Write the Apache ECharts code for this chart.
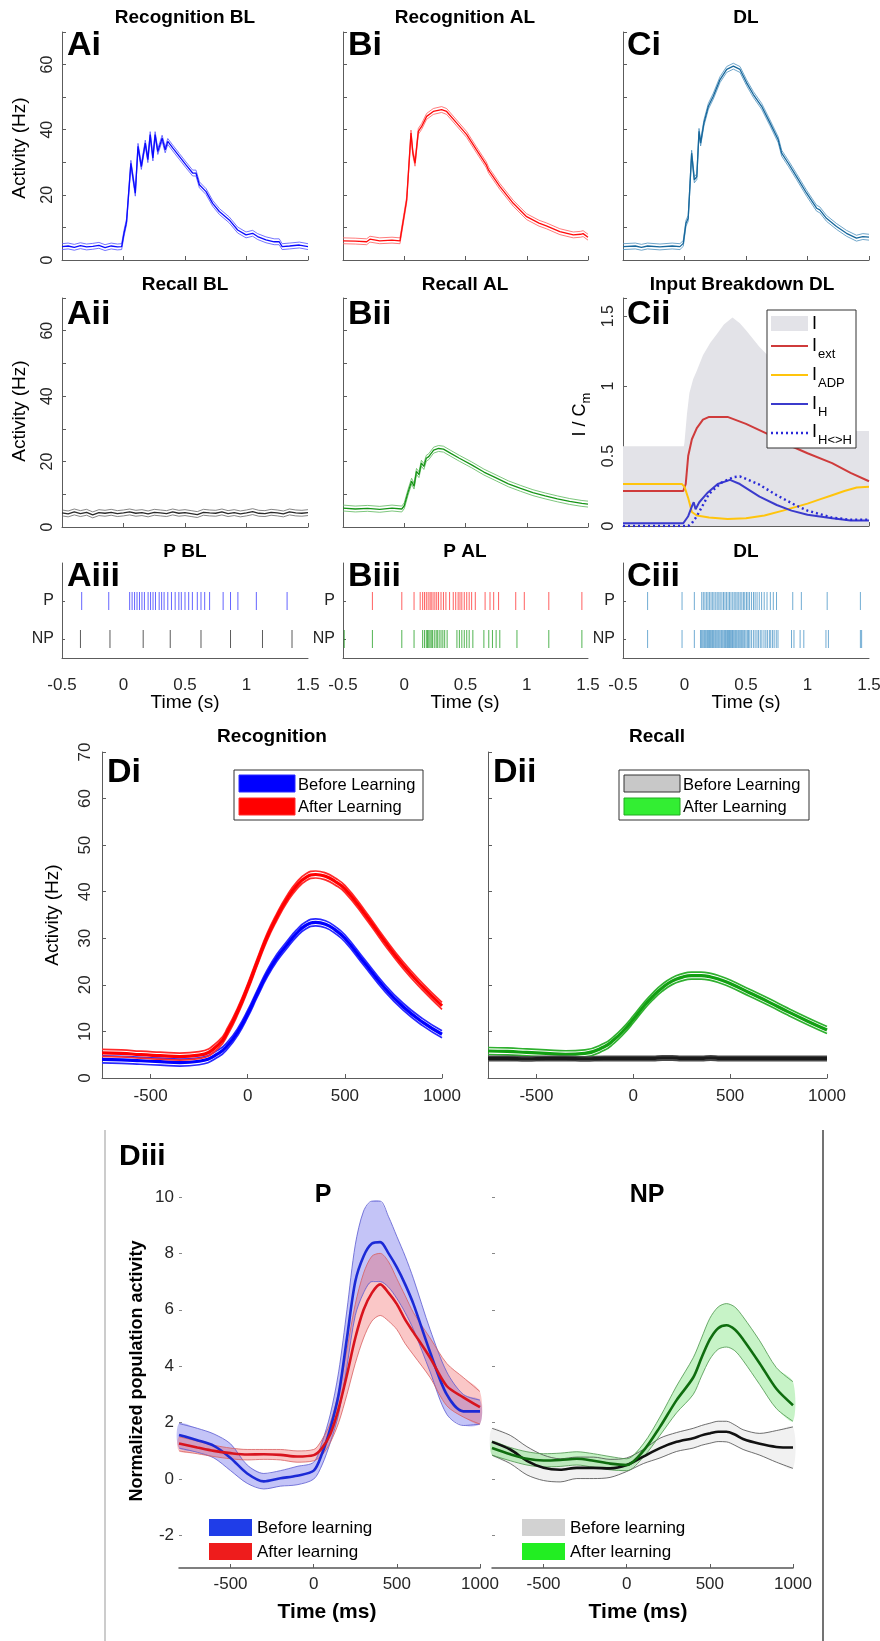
<!DOCTYPE html>
<html><head><meta charset="utf-8">
<script src="https://cdn.jsdelivr.net/npm/echarts@6/dist/echarts.min.js"></script>
<style>html,body{margin:0;padding:0;background:#fff}#c{width:880px;height:1641px}</style>
</head><body><div id="c"></div>
<script>
// ---------------- DATA ----------------
// Recognition BL (Ai)
const aiT = [-0.5,-0.45,-0.4,-0.35,-0.3,-0.25,-0.2,-0.15,-0.1,-0.05,-0.015,0.004,0.025,0.04,0.06,0.096,0.118,0.145,0.177,0.198,0.217,0.239,0.257,0.279,0.314,0.339,0.36,0.4,0.454,0.508,0.562,0.589,0.617,0.671,0.725,0.779,0.86,0.928,0.996,1.05,1.09,1.158,1.225,1.266,1.29,1.35,1.43,1.5];
const aiV = [4.1,4.3,3.9,4.4,4.0,4.2,4.5,3.8,4.3,4.0,4.1,8.2,11.8,12.3,29.7,20.5,34.9,28.7,35.9,30.8,38.5,31.3,38.5,33.3,37.4,33.8,36.4,34.4,31.8,29.2,26.7,26.7,23.1,21,17.4,14.9,12.3,9.2,7.7,8.2,7.2,6.2,5.6,5.6,4.1,4.3,4.6,4.1];
// Recognition AL (Bi)
const biT = [-0.5,-0.4,-0.307,-0.28,-0.2,-0.1,-0.035,-0.02,0.02,0.055,0.07,0.088,0.115,0.142,0.183,0.237,0.305,0.346,0.427,0.51,0.59,0.67,0.69,0.7,0.78,0.89,0.999,1.1,1.16,1.27,1.38,1.44,1.46,1.5];
const biV = [5.9,5.8,5.6,6.4,5.9,6.1,5.9,6.0,18.5,39,33,29.7,39.5,41,44.1,45.6,46.2,45.6,42.1,38.5,33.8,29.2,27.5,27.2,22.6,17.4,13.3,11.3,10.5,8.7,7.7,7.9,8.1,7.0];
// DL (Ci)
const ciT = [-0.5,-0.4,-0.35,-0.3,-0.2,-0.1,-0.037,-0.01,0.012,0.03,0.044,0.058,0.08,0.1,0.118,0.131,0.158,0.194,0.234,0.289,0.343,0.397,0.451,0.505,0.56,0.627,0.695,0.762,0.79,0.844,0.911,0.993,1.074,1.1,1.154,1.236,1.317,1.398,1.45,1.5];
const ciV = [4.1,4.3,3.9,4.3,4.0,4.3,4.1,5.1,11.3,12.8,22.6,32.8,24.6,25.6,39.5,35.9,42.1,47.2,50.3,55.4,58.5,59.5,58.5,54.4,50.8,47.2,42.1,36.9,32.8,29.7,25.6,20.5,15.9,15.4,12.8,10.3,8.2,6.7,7.2,7.0];
// Recall BL (Aii)
const aiiT = [-0.5,-0.45,-0.4,-0.35,-0.3,-0.25,-0.2,-0.15,-0.1,-0.05,0,0.05,0.1,0.15,0.2,0.25,0.3,0.35,0.4,0.45,0.5,0.55,0.6,0.65,0.7,0.75,0.8,0.85,0.9,0.95,1,1.05,1.1,1.15,1.2,1.25,1.3,1.35,1.4,1.45,1.5];
const aiiV = [4.3,4.0,4.6,4.1,4.5,3.7,4.4,4.2,4.5,4.1,4.3,4.6,4.2,4.4,4.0,4.5,4.3,4.1,4.6,4.2,4.4,4.1,3.8,4.5,4.3,4.2,4.6,4.1,4.4,4.0,4.3,4.7,4.2,4.1,4.5,4.3,4.0,4.6,4.3,4.2,4.4];
// Recall AL (Bii)
const biiT = [-0.5,-0.4,-0.3,-0.2,-0.1,-0.02,0.0,0.03,0.06,0.08,0.1,0.12,0.14,0.16,0.18,0.2,0.24,0.28,0.32,0.38,0.45,0.55,0.65,0.75,0.85,0.95,1.05,1.15,1.25,1.35,1.45,1.5];
const biiV = [5.8,5.5,5.7,5.4,5.8,5.5,6.5,10.5,14,12.5,17,16,19.5,18.5,21,21.5,23.5,24,23.8,22.5,21,19,16.8,15,13.2,11.8,10.5,9.5,8.6,7.8,7.2,7.0];
const semTop = 0.9; // band half-width (Hz)

// Input breakdown DL (Cii)
const ciiIT = [-0.5,-0.005,0.0,0.02,0.04,0.07,0.1,0.15,0.21,0.27,0.32,0.39,0.45,0.5,0.61,0.7,0.8,0.9,1.0,1.1,1.2,1.3,1.37,1.5];
const ciiI  = [0.57,0.57,0.6,0.8,0.95,1.05,1.11,1.22,1.31,1.38,1.44,1.49,1.45,1.4,1.28,1.2,1.1,0.98,0.88,0.8,0.73,0.69,0.68,0.68];
const ciiExtT = [-0.5,-0.01,0.01,0.03,0.06,0.1,0.15,0.2,0.35,0.5,0.67,0.87,1.0,1.2,1.35,1.5];
const ciiExt  = [0.25,0.25,0.3,0.5,0.62,0.7,0.76,0.78,0.78,0.73,0.66,0.57,0.52,0.45,0.38,0.32];
const ciiAdpT = [-0.5,-0.02,0.0,0.03,0.06,0.1,0.2,0.35,0.5,0.65,0.8,0.9,1.0,1.1,1.2,1.3,1.4,1.5];
const ciiAdp  = [0.3,0.3,0.28,0.2,0.1,0.075,0.06,0.05,0.055,0.075,0.11,0.135,0.16,0.19,0.22,0.25,0.275,0.28];
const ciiHT = [-0.5,-0.01,0.004,0.03,0.06,0.075,0.09,0.12,0.19,0.27,0.37,0.45,0.61,0.75,0.87,1.0,1.2,1.35,1.5];
const ciiH  = [0.02,0.02,0.02,0.07,0.14,0.17,0.12,0.17,0.24,0.3,0.33,0.3,0.21,0.15,0.11,0.08,0.055,0.04,0.04];
const ciiHHT = [-0.5,0.03,0.06,0.1,0.15,0.2,0.3,0.4,0.45,0.6,0.75,0.9,1.0,1.2,1.35,1.5];
const ciiHH  = [0.0,0.0,0.02,0.07,0.15,0.23,0.31,0.35,0.355,0.3,0.22,0.15,0.11,0.06,0.045,0.045];

// Rasters (spike times, s)
const aiiiP  = [-0.34,-0.12,0.05,0.07,0.09,0.11,0.13,0.15,0.17,0.2,0.22,0.24,0.26,0.29,0.31,0.33,0.36,0.39,0.42,0.45,0.47,0.5,0.53,0.56,0.6,0.63,0.66,0.7,0.81,0.87,0.93,1.08,1.33];
const aiiiNP = [-0.35,-0.11,0.16,0.38,0.63,0.87,1.13,1.37];
const biiiP  = [-0.26,-0.02,0.08,0.13,0.15,0.165,0.18,0.195,0.21,0.22,0.235,0.25,0.265,0.28,0.3,0.32,0.34,0.37,0.4,0.42,0.44,0.455,0.47,0.49,0.51,0.53,0.55,0.58,0.66,0.7,0.73,0.77,0.91,0.98,1.18,1.45];
const biiiNP = [-0.49,-0.26,-0.02,0.08,0.15,0.165,0.18,0.19,0.2,0.21,0.22,0.23,0.245,0.26,0.27,0.285,0.3,0.315,0.33,0.35,0.43,0.45,0.47,0.49,0.51,0.53,0.56,0.65,0.69,0.72,0.75,0.78,0.92,1.18,1.45];
const ciiiP  = [-0.3,-0.02,0.08,0.14,0.153,0.166,0.18,0.191,0.204,0.216,0.229,0.24,0.254,0.266,0.279,0.29,0.304,0.317,0.329,0.341,0.354,0.366,0.378,0.392,0.404,0.417,0.428,0.441,0.453,0.466,0.479,0.49,0.504,0.516,0.529,0.545,0.561,0.574,0.59,0.608,0.627,0.648,0.671,0.698,0.722,0.748,0.88,0.95,1.16,1.43];
const ciiiNP = [-0.3,-0.02,0.08,0.13,0.139,0.148,0.157,0.164,0.172,0.181,0.188,0.196,0.204,0.21,0.218,0.227,0.234,0.241,0.25,0.257,0.265,0.273,0.28,0.288,0.297,0.303,0.311,0.32,0.327,0.334,0.343,0.35,0.358,0.366,0.373,0.381,0.39,0.396,0.404,0.413,0.42,0.427,0.436,0.443,0.451,0.459,0.466,0.474,0.483,0.49,0.5,0.511,0.52,0.531,0.544,0.56,0.574,0.589,0.601,0.616,0.629,0.646,0.661,0.674,0.69,0.701,0.716,0.729,0.746,0.76,0.87,0.89,0.94,0.97,1.15,1.17,1.43,1.44];

// Di / Dii (ms, Hz)
const tD = [-750,-650,-550,-450,-350,-250,-150,-100,-50,0,50,100,150,200,250,300,350,400,450,500,600,700,800,900,1000];
const diBlue = [4.0,3.9,3.7,3.5,3.3,3.6,5.3,7.2,10,13.8,18.2,22.4,25.8,28.5,31,32.8,33.4,33.0,31.8,30.0,24.8,19.6,15.3,12.0,9.4];
const diRed  = [5.4,5.3,5.0,4.8,4.6,4.9,7.2,10.3,14.5,19.5,25,30.3,34.6,38.3,41.2,43.1,43.7,43.3,42.2,40.6,35.4,29.6,24.2,19.6,15.5];
const diiGreen = [5.8,5.7,5.5,5.3,5.1,5.3,6.7,8.2,10.2,12.6,15.2,17.5,19.4,20.8,21.6,22.0,22.0,21.7,21.1,20.3,18.3,16.3,14.2,12.2,10.3];
const diiGray  = [4.2,4.2,4.1,4.2,4.2,4.1,4.2,4.2,4.2,4.2,4.2,4.2,4.3,4.3,4.2,4.2,4.2,4.3,4.2,4.2,4.2,4.2,4.2,4.2,4.2];
const semD = 0.75, semGray = 0.45;

// Diii (ms, normalized)
const tP = [-810,-700,-600,-500,-400,-300,-200,-100,0,50,100,150,200,250,300,350,400,450,500,550,600,700,800,900,1000];
const pBlue   = [1.56,1.38,1.18,0.75,0.2,-0.08,0.03,0.12,0.3,0.9,1.8,3.0,5.0,7.0,7.9,8.35,8.4,8.0,7.5,6.9,6.2,4.5,3.0,2.4,2.4];
const pBlueHi = [1.97,1.8,1.6,1.25,0.5,0.2,0.3,0.45,0.6,1.3,2.3,3.8,6.0,8.3,9.5,9.85,9.85,9.3,8.6,7.9,7.1,5.3,3.8,3.0,2.8];
const pBlueLo = [1.1,0.95,0.75,0.3,-0.15,-0.35,-0.25,-0.2,0.0,0.5,1.3,2.3,4.0,5.8,6.6,7.0,7.0,6.8,6.4,5.9,5.3,3.8,2.3,1.9,1.95];
const pRed   = [1.26,1.12,1.0,0.92,0.87,0.88,0.86,0.8,0.85,1.1,1.6,2.5,3.7,5.0,6.0,6.6,6.9,6.6,6.2,5.65,5.2,4.3,3.3,2.9,2.55];
const pRedHi = [1.5,1.35,1.2,1.1,1.05,1.05,1.05,1.0,1.05,1.4,2.0,3.1,4.6,6.2,7.3,7.9,8.0,7.7,7.1,6.5,5.9,5.0,4.1,3.6,3.1];
const pRedLo = [1.0,0.9,0.8,0.72,0.68,0.7,0.68,0.6,0.65,0.85,1.3,2.0,3.0,4.1,5.0,5.6,5.8,5.6,5.3,4.8,4.4,3.6,2.6,2.2,1.95];
const tN = [-810,-700,-600,-500,-400,-300,-200,-100,0,100,200,300,400,450,500,550,600,650,700,800,900,1000];
const nGreen   = [1.1,0.88,0.72,0.66,0.68,0.72,0.65,0.55,0.5,1.0,1.85,2.8,3.6,4.3,4.95,5.35,5.45,5.3,4.95,4.1,3.2,2.62];
const nGreenHi = [1.35,1.12,0.97,0.9,0.92,0.97,0.9,0.8,0.72,1.25,2.2,3.3,4.3,5.0,5.7,6.1,6.22,6.1,5.75,4.9,3.95,3.45];
const nGreenLo = [0.85,0.65,0.5,0.43,0.45,0.5,0.42,0.33,0.3,0.78,1.55,2.35,3.0,3.65,4.25,4.6,4.68,4.55,4.2,3.35,2.5,2.05];
const nBlack   = [1.32,1.05,0.65,0.4,0.33,0.4,0.4,0.38,0.5,0.8,1.1,1.32,1.45,1.55,1.62,1.68,1.68,1.58,1.42,1.25,1.14,1.12];
const nBlackHi = [1.8,1.55,1.15,0.85,0.72,0.78,0.78,0.7,0.75,1.05,1.45,1.65,1.8,1.9,1.98,2.05,2.05,1.92,1.75,1.62,1.72,1.85];
const nBlackLo = [0.85,0.55,0.15,-0.05,-0.1,0.02,0.02,0.06,0.27,0.55,0.75,0.98,1.1,1.2,1.27,1.33,1.32,1.2,1.05,0.85,0.6,0.38];

// tick labels
const topYLabels = [0,20,40,60];
const ciiYLabels = [0,0.5,1,1.5];
const dXLabels = [-500,0,500,1000];
const diiiYLabels = [-2,0,2,4,6,8,10];

// ---------------- BUILD ----------------
const FONT = "'Liberation Sans', Arial, Helvetica, sans-serif";
const AX = '#5c5c5c', TXT = '#262626';
const grids = [], xAxes = [], yAxes = [], series = [], graphic = [];

function merge(a, b) {
  const o = Object.assign({}, a);
  for (const k in b) {
    if (b[k] && typeof b[k] === 'object' && !Array.isArray(b[k]) && a[k] && typeof a[k] === 'object' && !Array.isArray(a[k])) o[k] = merge(a[k], b[k]);
    else o[k] = b[k];
  }
  return o;
}
const baseAxis = {
  type: 'value', splitLine: {show: false}, splitArea: {show: false},
  axisLine: {show: true, onZero: false, lineStyle: {color: AX, width: 1}},
  axisTick: {show: true, inside: true, length: 4, lineStyle: {color: AX}},
  axisLabel: {show: false, color: TXT, fontFamily: FONT, fontSize: 16}
};
function panel(box, xa, ya) {
  const i = grids.length;
  grids.push({left: box[0], top: box[1], width: box[2], height: box[3], containLabel: false, outerBoundsMode: 'none'});
  xAxes.push(merge(merge(baseAxis, {gridIndex: i}), xa));
  yAxes.push(merge(merge(baseAxis, {gridIndex: i}), ya));
  return i;
}
const zip = (t, v) => t.map((x, k) => [x, v[k]]);
const shift = (v, d) => v.map(x => x + d);
function line(i, t, v, color, width, extra) {
  series.push(merge({type: 'line', xAxisIndex: i, yAxisIndex: i, data: zip(t, v), symbol: 'none', showSymbol: false,
    silent: true, animation: false, lineStyle: {color: color, width: width}, z: 3}, extra || {}));
}
function band(i, t, lo, hi, fill, edge, ew, sm) {
  series.push({type: 'custom', xAxisIndex: i, yAxisIndex: i, data: [[t[0], lo[0]]], silent: true, animation: false, z: 2,
    renderItem: function (params, api) {
      const up = t.map((x, k) => api.coord([x, hi[k]]));
      const dn = t.map((x, k) => api.coord([x, lo[k]])).reverse();
      return {type: 'polygon', shape: {points: up.concat(dn), smooth: sm}, style: {fill: fill, stroke: null}};
    }});
  line(i, t, hi, edge, ew, {smooth: sm, z: 2});
  line(i, t, lo, edge, ew, {smooth: sm, z: 2});
}
function spikes(i, times, row, color) {
  series.push({type: 'scatter', xAxisIndex: i, yAxisIndex: i, data: times.map(t => [t, row]), symbol: 'rect',
    symbolSize: [1, 18], itemStyle: {color: color}, silent: true, animation: false, z: 3});
}
function T(text, x, y, size, o) {
  o = o || {};
  graphic.push({type: 'text', x: x, y: y, rotation: o.rot || 0, z: 100, silent: true,
    style: {text: text, fontSize: size, fontWeight: o.bold ? 'bold' : 'normal', fontFamily: FONT, fill: o.color || '#000',
      align: o.align || 'center', verticalAlign: 'middle', textAlign: o.align || 'center', textVerticalAlign: 'middle'}});
}
function R(x, y, w, h, fill, stroke, lw) {
  graphic.push({type: 'rect', z: 100, silent: true, shape: {x: x, y: y, width: w, height: h},
    style: {fill: fill, stroke: stroke || null, lineWidth: lw || 0}});
}
function L(x1, y1, x2, y2, stroke, lw, dash) {
  graphic.push({type: 'line', z: 100, silent: true, shape: {x1: x1, y1: y1, x2: x2, y2: y2},
    style: {stroke: stroke, lineWidth: lw, lineDash: dash || null}});
}

// ---- axes presets
const xTop = {min: -0.5, max: 1.5, interval: 0.5};
const yTopL = {min: 0, max: 70, interval: 10, axisLabel: {show: true, rotate: 90, customValues: topYLabels, margin: 6, fontSize: 16}};
const yTopN = {min: 0, max: 70, interval: 10};
const xRas = {min: -0.5, max: 1.5, interval: 0.5, axisTick: {show: false}, axisLabel: {show: true, fontSize: 17, margin: 19}};
const yRas = {min: 0.5, max: 3, axisTick: {customValues: [1, 2], length: 3},
  axisLabel: {show: true, customValues: [1, 2], formatter: v => (v === 2 ? 'P' : (v === 1 ? 'NP' : '')), fontSize: 16, margin: 8}};
const plain = v => String(v);

// ---- row i
const gAi = panel([62, 32, 246, 228], xTop, yTopL);
const gBi = panel([343, 32, 245, 228], xTop, yTopN);
const gCi = panel([623, 32, 246, 228], xTop, yTopN);
[[gAi, aiT, aiV, '#0a0aff', '#5252ff'], [gBi, biT, biV, '#ff0a0a', '#ff5a5a'], [gCi, ciT, ciV, '#17679b', '#4b8fbd']].forEach(p => {
  line(p[0], p[1], shift(p[2], semTop), p[4], 0.8);
  line(p[0], p[1], shift(p[2], -semTop), p[4], 0.8);
  line(p[0], p[1], p[2], p[3], 1.3);
});

// ---- row ii
const gAii = panel([62, 298, 246, 229], xTop, yTopL);
const gBii = panel([343, 298, 245, 229], xTop, yTopN);
const gCii = panel([623, 298, 246, 228], xTop, {min: 0, max: 1.63, interval: 0.5,
  axisLabel: {show: true, rotate: 90, customValues: ciiYLabels, margin: 6, fontSize: 16}});
[[gAii, aiiT, aiiV, '#2a2a2a', '#666666'], [gBii, biiT, biiV, '#169416', '#5cb85c']].forEach(p => {
  line(p[0], p[1], shift(p[2], semTop), p[4], 0.8);
  line(p[0], p[1], shift(p[2], -semTop), p[4], 0.8);
  line(p[0], p[1], p[2], p[3], 1.3);
});
line(gCii, ciiIT, ciiI, '#e3e3e8', 0, {areaStyle: {color: '#e3e3e8', opacity: 1}, z: 1});
line(gCii, ciiExtT, ciiExt, '#cf3b3b', 2);
line(gCii, ciiAdpT, ciiAdp, '#ffc40c', 2);
line(gCii, ciiHT, ciiH, '#3b3bcc', 2);
line(gCii, ciiHHT, ciiHH, '#2a2ad8', 2.4, {lineStyle: {type: [2, 3]}});

// ---- row iii rasters
const gAiii = panel([62, 563, 246, 95], xRas, yRas);
const gBiii = panel([343, 563, 245, 95], xRas, yRas);
const gCiii = panel([623, 563, 246, 95], xRas, yRas);
spikes(gAiii, aiiiP, 2, '#3f3fff'); spikes(gAiii, aiiiNP, 1, '#333333');
spikes(gBiii, biiiP, 2, '#ff3a3a'); spikes(gBiii, biiiNP, 1, '#27a127');
spikes(gCiii, ciiiP, 2, '#4d97c8'); spikes(gCiii, ciiiNP, 1, '#4d97c8');

// ---- Di / Dii
const xD = {min: -750, max: 1000, axisTick: {customValues: dXLabels}, axisLabel: {show: true, customValues: dXLabels, formatter: plain, fontSize: 17, margin: 10}};
const gDi = panel([102, 752, 340, 326], xD, {min: 0, max: 70, interval: 10, axisLabel: {show: true, rotate: 90, fontSize: 17, margin: 8}});
const gDii = panel([488, 752, 339, 326], xD, {min: 0, max: 70, interval: 10});
function thick(i, v, sem, mainC, edgeC) {
  line(i, tD, shift(v, sem), edgeC, 1.7, {smooth: true});
  line(i, tD, shift(v, -sem), edgeC, 1.7, {smooth: true});
  line(i, tD, v, mainC, 3.2, {smooth: true});
}
thick(gDi, diBlue, semD, '#0000ff', '#2a2aff');
thick(gDi, diRed, semD, '#ff0000', '#ff2a2a');
thick(gDii, diiGreen, semD, '#12a012', '#2fb02f');
thick(gDii, diiGray, semGray, '#1a1a1a', '#4a4a4a');

// ---- Diii
const xN = {min: -810, max: 1000, axisLine: {lineStyle: {color: '#555', width: 1.5}}, axisTick: {customValues: dXLabels, length: 4},
  axisLabel: {show: true, customValues: dXLabels, formatter: plain, fontSize: 17, margin: 8}};
const yN = {min: -3.15, max: 10.6, axisLine: {show: false}, axisTick: {customValues: diiiYLabels, length: 3, lineStyle: {color: '#888'}},
  axisLabel: {show: true, customValues: diiiYLabels, fontSize: 17, margin: 5}};
const gP = panel([179, 1180, 301, 388], xN, yN);
const gNP = panel([492, 1180, 301, 388], xN, merge(yN, {axisLabel: {show: false}}));
band(gP, tP, pBlueLo, pBlueHi, 'rgba(60,60,230,0.30)', '#5a5ad0', 0.8, 0.3);
band(gP, tP, pRedLo, pRedHi, 'rgba(238,70,70,0.30)', '#d86060', 0.8, 0.3);
line(gP, tP, pBlue, '#1b2ad6', 2.6, {smooth: 0.3, z: 4});
line(gP, tP, pRed, '#d8141e', 2.6, {smooth: 0.3, z: 4});
band(gNP, tN, nBlackLo, nBlackHi, 'rgba(190,190,190,0.22)', '#4a4a4a', 0.8, 0.3);
band(gNP, tN, nGreenLo, nGreenHi, 'rgba(70,215,70,0.30)', '#4a944a', 0.8, 0.3);
line(gNP, tN, nBlack, '#111111', 2.6, {smooth: 0.3, z: 4});
line(gNP, tN, nGreen, '#0f6d0f', 2.6, {smooth: 0.3, z: 4});

// ---------------- TEXT & DECORATION ----------------
const B = {bold: true}, ROT = Math.PI / 2;
[['Recognition BL', 185, 18], ['Recognition AL', 465, 18], ['DL', 746, 18],
 ['Recall BL', 185, 285], ['Recall AL', 465, 285], ['Input Breakdown DL', 742, 285],
 ['P BL', 185, 552], ['P AL', 465, 552], ['DL', 746, 552],
 ['Recognition', 272, 737], ['Recall', 657, 737]].forEach(a => T(a[0], a[1], a[2], 19, B));
T('P', 323, 1195, 25, B); T('NP', 647, 1195, 25, B);
[['Ai', 67, 46], ['Bi', 348, 46], ['Ci', 627, 46], ['Aii', 67, 315], ['Bii', 348, 315], ['Cii', 627, 315],
 ['Aiii', 67, 577], ['Biii', 348, 577], ['Ciii', 627, 577], ['Di', 107, 773], ['Dii', 493, 773]].forEach(a => T(a[0], a[1], a[2], 34, {bold: true, align: 'left'}));
T('Diii', 119, 1157, 30, {bold: true, align: 'left'});

T('Activity (Hz)', 20, 148, 19, {rot: ROT});
T('Activity (Hz)', 20, 411, 19, {rot: ROT});
T('Activity (Hz)', 53, 915, 19, {rot: ROT});
T('I / C', 580, 420, 18, {rot: ROT});
T('m', 586, 398, 13, {rot: ROT});
T('Time (s)', 185, 703, 19); T('Time (s)', 465, 703, 19); T('Time (s)', 746, 703, 19);
T('Normalized population activity', 137, 1371, 18, {bold: true, rot: ROT});
T('Time (ms)', 327, 1612, 21, B); T('Time (ms)', 638, 1612, 21, B);

// Cii legend
R(767, 310, 89, 138, '#ffffff', '#333333', 1);
R(771, 316, 37, 15, '#e3e3e8');
L(771, 346, 808, 346, '#cf3b3b', 2);
L(771, 375, 808, 375, '#ffc40c', 2);
L(771, 404, 808, 404, '#3b3bcc', 2);
L(771, 433, 808, 433, '#2a2ad8', 2.4, [2, 3]);
T('I', 812, 324, 18, {align: 'left'});
[[346, 'ext'], [375, 'ADP'], [404, 'H'], [432, 'H<>H']].forEach(a => {
  T('I', 812, a[0], 18, {align: 'left'});
  T(a[1], 818, a[0] + 8, 13, {align: 'left'});
});

// Di legend
R(234, 770, 189, 50, '#ffffff', '#333333', 1);
R(239, 775, 56, 17, '#0000ff', '#2a2aff', 1);
R(239, 798, 56, 17, '#ff0000', '#ff2a2a', 1);
T('Before Learning', 298, 785, 16.5, {align: 'left'});
T('After Learning', 298, 807, 16.5, {align: 'left'});
// Dii legend
R(619, 770, 190, 50, '#ffffff', '#333333', 1);
R(624, 775, 56, 17, '#c8c8c8', '#333333', 1);
R(624, 798, 56, 17, '#33ee33', '#22aa22', 1);
T('Before Learning', 683, 785, 16.5, {align: 'left'});
T('After Learning', 683, 807, 16.5, {align: 'left'});
// Diii legends
R(209, 1519, 43, 17, '#1f3de8'); R(209, 1543, 43, 17, '#ee1c1c');
T('Before learning', 257, 1528, 17, {align: 'left'}); T('After learning', 257, 1552, 17, {align: 'left'});
R(522, 1519, 43, 17, '#d2d2d2'); R(522, 1543, 43, 17, '#22ee22');
T('Before learning', 570, 1528, 17, {align: 'left'}); T('After learning', 570, 1552, 17, {align: 'left'});
// Diii frame lines
L(105, 1130, 105, 1641, '#bbbbbb', 1.5);
L(823, 1130, 823, 1641, '#444444', 1.5);

const chart = echarts.init(document.getElementById('c'), null, {renderer: 'canvas', width: 880, height: 1641});
chart.setOption({
  backgroundColor: '#ffffff', animation: false,
  textStyle: {fontFamily: FONT},
  grid: grids, xAxis: xAxes, yAxis: yAxes, series: series, graphic: graphic
});
</script></body></html>
